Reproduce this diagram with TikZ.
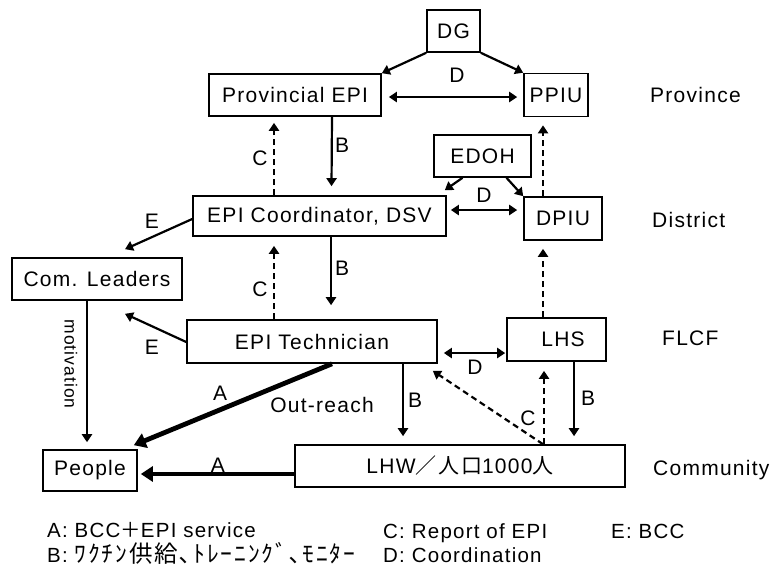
\documentclass[tikz,border=0pt]{standalone}
\usepackage{fontspec}
\setmainfont[LetterSpace=6]{Liberation Sans}
\newfontfamily\jp[LetterSpace=8]{Noto Sans CJK JP}
\usetikzlibrary{arrows.meta}
\begin{document}
\begin{tikzpicture}[x=1pt,y=-1pt,
 box/.style={draw,line width=1.6pt,inner sep=0pt,font=\fontsize{21}{25}\selectfont},
 lbl/.style={font=\fontsize{21}{25}\selectfont,inner sep=0pt},
 lgd/.style={font=\fontsize{20.5}{24}\selectfont,inner sep=0pt,anchor=base west},
 arr/.style={line width=2.2pt,-{Triangle[length=8pt,width=10pt]}},
 darr/.style={arr,dash pattern=on 6pt off 4pt},
 barr/.style={line width=2.2pt,{Triangle[length=8pt,width=10pt]}-{Triangle[length=8pt,width=10pt]}},
 tarr/.style={line width=4.8pt,-{Triangle[length=12pt,width=15pt]}},
]
\useasboundingbox (0,0) rectangle (781,576);
% nodes
\node[box,minimum width=53pt,minimum height=42pt] (DG) at (453.5,31) {DG};
\node[box,minimum width=172pt,minimum height=42pt] (ProvEPI) at (295,95) {Provincial EPI};
\node[box,minimum width=64pt,minimum height=43pt] (PPIU) at (556,95) {PPIU};
\node[box,minimum width=97pt,minimum height=42pt] (EDOH) at (482.5,156) {EDOH};
\node[box,minimum width=253pt,minimum height=40pt] (EPICoord) at (319.5,216) {EPI Coordinator, DSV};
\node[box,minimum width=78pt,minimum height=43pt] (DPIU) at (563,218.5) {DPIU};
\node[box,minimum width=170pt,minimum height=42pt] (ComLeaders) at (97,279) {Com. Leaders};
\node[box,minimum width=250pt,minimum height=43pt] (EPITech) at (312,341.5) {EPI Technician};
\node[box,minimum width=99pt,minimum height=43pt] (LHS) at (556.5,339.5) {\hspace*{13pt}LHS};
\node[box,minimum width=94pt,minimum height=41pt] (People) at (90,470.5) {People};
\node[box,minimum width=330pt,minimum height=42pt] (LHW) at (460,466) {LHW{\jp ／人口}1000{\jp 人}};
% level labels
\node[lbl,anchor=west] (lvP) at (650,95) {Province};
\node[lbl,anchor=west] (lvD) at (652,220) {District};
\node[lbl,anchor=west] (lvF) at (662,338) {FLCF};
\node[lbl,anchor=west] (lvC) at (653,470) {Community};
% province level
\draw[arr] (DG.south west) -- (ProvEPI.north east);
\draw[arr] (DG.south east) -- (PPIU.north west);
\node[lbl] (lD1) at (457,75) {D};
\draw[barr] ([xshift=7pt,yshift=-2pt]ProvEPI.east) -- ([xshift=-6pt,yshift=-2pt]PPIU.west);
\draw[darr] ([xshift=-45.5pt]EPICoord.north) -- ([xshift=-21pt,yshift=-6pt]ProvEPI.south);
\node[lbl] (lC1) at (260,158) {C};
\draw[arr] ([xshift=37pt]ProvEPI.south) -- ([xshift=12pt,yshift=9pt]EPICoord.north);
\node[lbl] (lB1) at (342,145) {B};
% district level
\draw[arr] ([xshift=-20pt]EDOH.south) -- ([xshift=-2pt,yshift=5pt]EPICoord.north east);
\draw[arr] ([xshift=24pt]EDOH.south) -- (DPIU.north west);
\node[lbl] (lD2) at (484,195) {D};
\draw[barr] ([xshift=4pt,yshift=6pt]EPICoord.east) -- ([xshift=-6pt,yshift=8.5pt]DPIU.west);
\draw[darr] ([xshift=-20pt]DPIU.north) -- ([xshift=-13pt,yshift=-8pt]PPIU.south);
\draw[arr] ([yshift=-3pt]EPICoord.west) -- ([xshift=28pt,yshift=8pt]ComLeaders.north);
\node[lbl] (lE1) at (152,221) {E};
\draw[darr] ([xshift=-38pt]EPITech.north) -- ([xshift=-45.5pt,yshift=-9pt]EPICoord.south);
\node[lbl] (lC2) at (260,289) {C};
\draw[arr] ([xshift=11.5pt]EPICoord.south) -- ([xshift=19pt,yshift=14pt]EPITech.north);
\node[lbl] (lB2) at (342,268) {B};
% FLCF level
\draw[arr] ([yshift=-0.5pt]EPITech.west) -- ([xshift=28pt,yshift=-13pt]ComLeaders.south);
\node[lbl] (lE2) at (152,347) {E};
\draw[arr] ([xshift=-10pt]ComLeaders.south) -- ([xshift=-3pt,yshift=7pt]People.north);
\node[font=\fontsize{17.5}{19}\selectfont,inner sep=0pt,rotate=-90] (mot) at (71,364) {motivation};
\draw[tarr] ([xshift=20pt]EPITech.south) -- ([xshift=-4pt,yshift=4pt]People.north east);
\node[lbl] (lA1) at (220,393) {A};
\node[lbl] (lOut) at (322,405) {Out-reach};
\draw[tarr] ([yshift=-8pt]LHW.west) -- ([xshift=3pt,yshift=-3.5pt]People.east);
\node[lbl] (lA2) at (218,465) {A};
\draw[barr] ([xshift=6pt,yshift=-11.5pt]EPITech.east) -- ([xshift=-1pt,yshift=-13.5pt]LHS.west);
\node[lbl] (lD3) at (475,367) {D};
\draw[arr] ([xshift=91pt]EPITech.south) -- ([xshift=-57pt,yshift=8pt]LHW.north);
\node[lbl] (lB3) at (415,400) {B};
\draw[darr] ([xshift=83pt]LHW.north) -- ([xshift=-5pt,yshift=-7pt]EPITech.south east);
\draw[darr] ([xshift=84pt]LHW.north) -- ([xshift=-12.5pt,yshift=-9pt]LHS.south);
\node[lbl] (lC3) at (528,418) {C};
\draw[arr] ([xshift=17.5pt]LHS.south) -- ([xshift=114pt,yshift=8pt]LHW.north);
\node[lbl] (lB4) at (588,398) {B};
\draw[darr] ([xshift=-13.5pt]LHS.north) -- ([xshift=-20pt,yshift=-8pt]DPIU.south);
% legend
\node[lgd] (legA) at (47,537) {A: BCC{\jp ＋}EPI service};
\node[lgd] (legB) at (47,562) {B: {\jp\fontsize{23.5}{26}\selectfont ﾜｸﾁﾝ供給､ﾄﾚｰﾆﾝｸﾞ､ﾓﾆﾀｰ}};
\node[lgd] (legC) at (383,538) {C: Report of EPI};
\node[lgd] (legD) at (383,562) {D: Coordination};
\node[lgd] (legE) at (611,538) {E: BCC};
\end{tikzpicture}
\end{document}
